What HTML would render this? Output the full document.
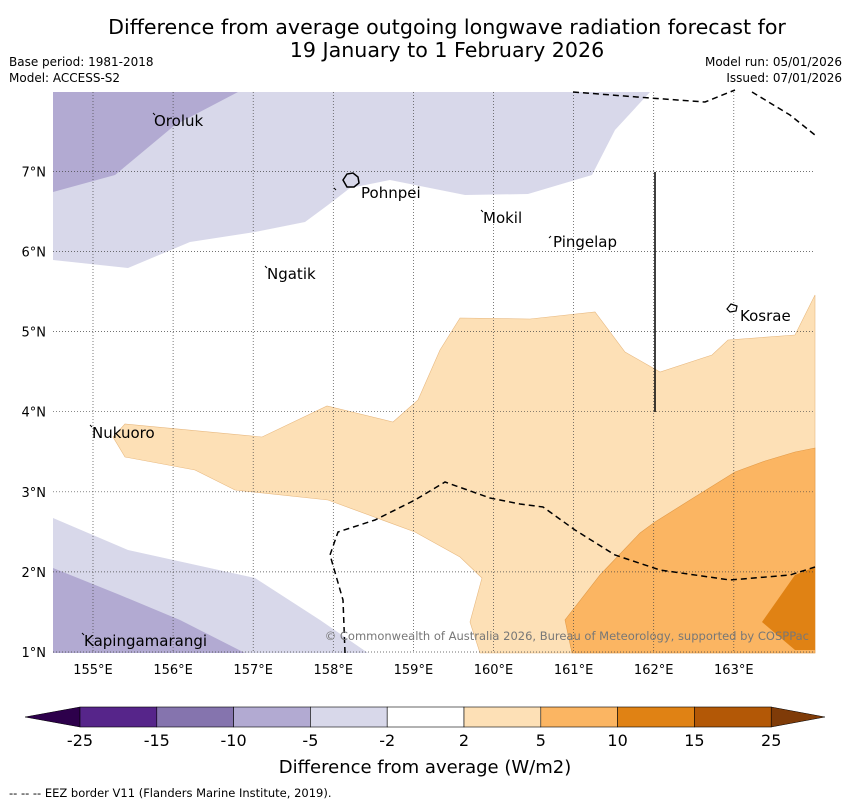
<!DOCTYPE html>
<html><head><meta charset="utf-8"><style>
body{margin:0;background:#fff;font-family:"Liberation Sans","DejaVu Sans",sans-serif}
svg text{font-family:"DejaVu Sans","Liberation Sans",sans-serif}
</style></head><body>
<svg width="850" height="804" viewBox="0 0 850 804" xmlns="http://www.w3.org/2000/svg">
<text x="447" y="34" font-size="20.6" text-anchor="middle">Difference from average outgoing longwave radiation forecast for</text>
<text x="447" y="57" font-size="20.6" text-anchor="middle">19 January to 1 February 2026</text>
<text x="9" y="66" font-size="12">Base period: 1981-2018</text>
<text x="9" y="82" font-size="12">Model: ACCESS-S2</text>
<text x="842" y="66" font-size="12" text-anchor="end">Model run: 05/01/2026</text>
<text x="842" y="82" font-size="12" text-anchor="end">Issued: 07/01/2026</text>
<g id="map">
<rect x="53" y="92" width="762" height="561" fill="#fff"/>
<polygon fill="#d8d8ea" points="53,92 650,92 615,130 592,175 528,194 465,195 390,180 350,188 328,205 305,222 255,232 190,242 128,268 53,260"/>
<polygon fill="#b2aad2" points="53,92 238,92 175,125 115,175 53,192"/>
<polygon fill="#d8d8ea" points="53,518 128,550 255,578 320,620 368,653 53,653"/>
<polygon fill="#b2aad2" points="53,568 120,595 180,620 245,653 53,653"/>
<polygon fill="#fde0b6" stroke="#e8b980" stroke-width="0.6" points="815,295 795,335 728,340 712,355 660,372 625,352 595,312 530,319 460,318 440,350 418,400 393,422 327,406 262,437 125,424 113,437 125,457 195,470 235,490 328,500 415,532 460,557 482,578 470,622 480,653 815,653"/>
<polygon fill="#fbb562" stroke="#e29a48" stroke-width="0.6" points="815,448 795,452 765,461 735,472 690,500 655,522 640,533 600,575 565,620 572,653 815,653"/>
<polygon fill="#e08214" points="815,567 795,575 762,622 795,650 815,650"/>
<g id="grid" stroke="#444" stroke-width="0.7" stroke-dasharray="1,2" fill="none"></g>
<polyline fill="none" stroke="#000" stroke-width="1.5" stroke-dasharray="6,4" points="573,92 650,98 705,102 735,90"/>
<polyline fill="none" stroke="#000" stroke-width="1.5" stroke-dasharray="6,4" points="752,92 790,115 815,135"/>
<polyline fill="none" stroke="#000" stroke-width="1.5" stroke-dasharray="6,4" points="345,653 343,600 330,555 338,532 375,520 415,500 445,482 490,498 520,504 543,507 575,530 615,555 660,570 730,580 790,575 815,567"/>
<line x1="655" y1="172" x2="655" y2="412" stroke="#000" stroke-width="1.5"/>
<path d="M343,180 l4,-6 l6,-1 l5,4 l1,6 l-5,4 l-7,0 z" fill="none" stroke="#000" stroke-width="1.5"/>
<line x1="334" y1="188" x2="336" y2="190" stroke="#000"/>
<path d="M727,309 l4,-5 l6,2 l-1,5 l-6,1 z" fill="none" stroke="#000" stroke-width="1.2"/>
<g font-size="15" fill="#000" id="places">
<text x="154" y="126">Oroluk</text>
<text x="361" y="198">Pohnpei</text>
<text x="483" y="223">Mokil</text>
<text x="553" y="247">Pingelap</text>
<text x="267" y="279">Ngatik</text>
<text x="740" y="321">Kosrae</text>
<text x="92" y="438">Nukuoro</text>
<text x="84" y="646">Kapingamarangi</text>
</g>
<g stroke="#000" stroke-width="1">
<line x1="153" y1="113" x2="155" y2="115"/><line x1="481" y1="210" x2="483" y2="212"/><line x1="551" y1="236" x2="549" y2="238"/><line x1="265" y1="266" x2="267" y2="268"/><line x1="90" y1="425" x2="92" y2="427"/><line x1="82" y1="633" x2="84" y2="635"/>
</g>
<text x="809" y="640" font-size="11.5" fill="#777" text-anchor="end">© Commonwealth of Australia 2026, Bureau of Meteorology, supported by COSPPac</text>
</g>
<g id="axes" font-size="13"></g>
<g id="colorbar"></g>
<text x="425" y="773" font-size="18" text-anchor="middle">Difference from average (W/m2)</text>
<text x="9" y="797" font-size="11.5">--  --  --  EEZ border V11 (Flanders Marine Institute, 2019).</text>
</svg>
<script>
const lonTicks=[155,156,157,158,159,160,161,162,163];
const latTicks=[1,2,3,4,5,6,7];
const cbLevels=[-25,-15,-10,-5,-2,2,5,10,15,25];
const cbColors=["#56258a","#8574ae","#b2aad2","#d8d8ea","#ffffff","#fde0b6","#fbb562","#e08214","#b35806"];
const cbExtend=["#2d004b","#7f3b08"];
const NS="http://www.w3.org/2000/svg";
function xLon(l){return 93+(l-155)*80.1;}
function yLat(l){return 652-(l-1)*80.1;}
function mk(t,a,p){const e=document.createElementNS(NS,t);for(const k in a)e.setAttribute(k,a[k]);p.appendChild(e);return e;}
const grid=document.getElementById('grid'),axes=document.getElementById('axes');
lonTicks.forEach(l=>{const x=xLon(l);
 const g=mk('line',{x1:x,y1:92,x2:x,y2:653},grid);
 
 
 const t=mk('text',{x:x,y:674,'text-anchor':'middle'},axes);t.textContent=l+'°E';
 
 });
latTicks.forEach(l=>{const y=yLat(l);
 const g=mk('line',{x1:53,y1:y,x2:815,y2:y},grid);
 
 
 const t=mk('text',{x:46,y:y+5,'text-anchor':'end'},axes);t.textContent=l+'°N';
 
 });
const cb=document.getElementById('colorbar');
const x0=80,w=76.8,yT=707,h=20;
function cbx(i){return x0+i*w;}
const lt=mk('polygon',{points:`25,717 ${x0},${yT} ${x0},${yT+h}`,fill:cbExtend[0],stroke:'#000','stroke-width':0.5},cb);


const n=cbColors.length;
const rt=mk('polygon',{points:`${cbx(n)},${yT} 825,717 ${cbx(n)},${yT+h}`,fill:cbExtend[1],stroke:'#000','stroke-width':0.5},cb);


cbColors.forEach((c,i)=>{const r=mk('rect',{x:cbx(i),y:yT,width:w,height:h,fill:c,stroke:'#000','stroke-width':0.6},cb);
 
 });
cbLevels.forEach((v,i)=>{const t=mk('text',{x:cbx(i),y:746,'font-size':16,'text-anchor':'middle'},cb);t.textContent=v;
 
 });
</script>
</body></html>
